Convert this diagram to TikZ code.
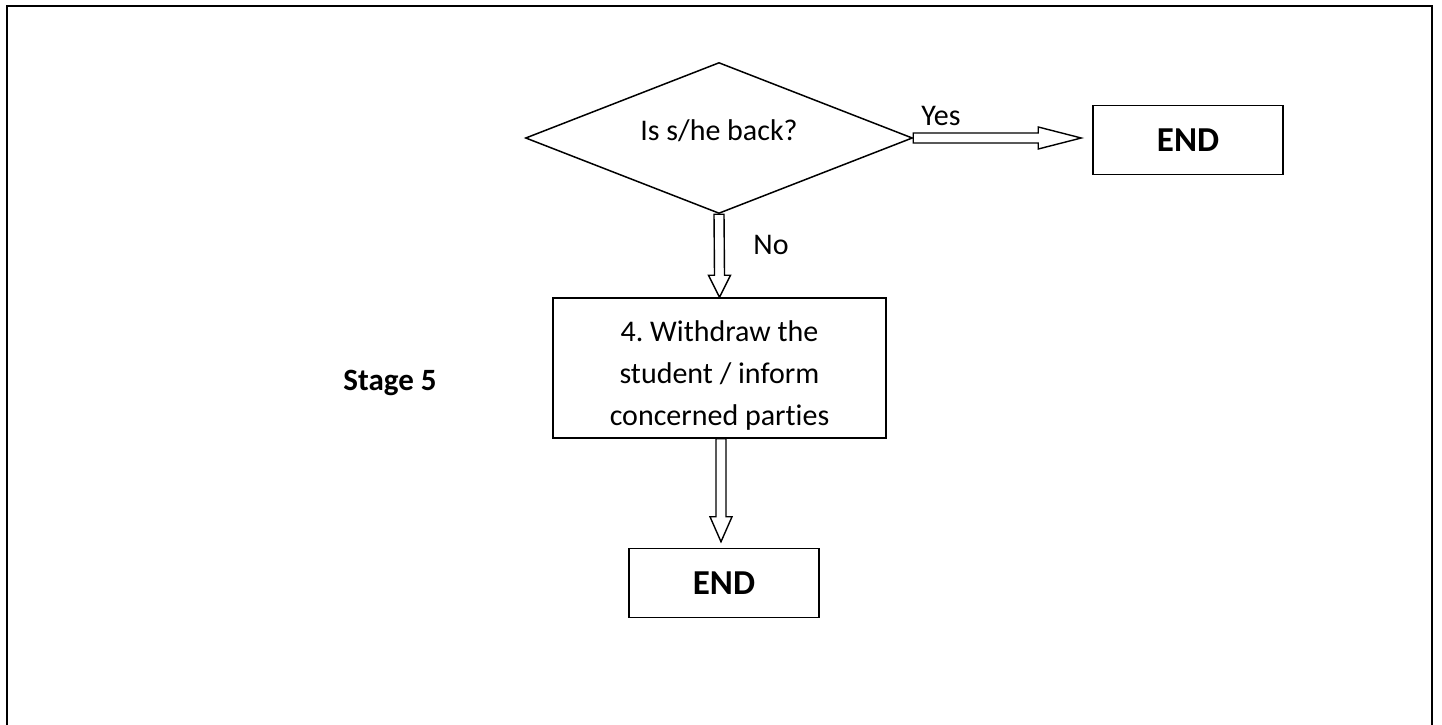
\documentclass[tikz,border=0pt]{standalone}
\usepackage{fontspec}
\setmainfont[Ligatures=NoCommon]{Carlito}
\frenchspacing
\usetikzlibrary{shapes.geometric,calc}
\tikzset{
  every node/.style={font=\fontsize{30}{42}\selectfont},
  boxnode/.style={draw,line width=1.5pt,inner sep=0pt,align=center},
  endbox/.style={boxnode,minimum width=190pt,minimum height=69pt,font=\fontsize{35}{40}\selectfont\bfseries},
  decision/.style={draw,diamond,line width=1.5pt,inner sep=0pt,minimum width=387pt,minimum height=151pt,aspect=2.56},
  blockarrow/.style={draw,line width=1.4pt,fill=white,line join=miter},
  plain/.style={inner sep=0pt,align=center}
}
\begin{document}
\begin{tikzpicture}[x=1pt,y=-1pt]
\useasboundingbox (0,0) rectangle (1442,725);
\draw[line width=2.5pt] (7,6) rectangle (1432,740);

\node[decision] (d) at (719,138) {};
\node[plain] (dq) at (719,131) {Is s/he back?};
\node[endbox] (e1) at (1188,140) {END};
\node[boxnode,minimum width=333pt,minimum height=140pt] (b1) at (719.5,368) {};
\node[plain] (b1t) at (719.5,375) {4. Withdraw the\\student / inform\\concerned parties};
\node[endbox] (e2) at (724,583) {END};
\node[plain,font=\fontsize{31}{42}\selectfont\bfseries] (st) at (390,383) {Stage 5};
\node[plain] (yes) at (941,116) {Yes};
\node[plain] (no) at (771,245) {No};

% Yes arrow
\coordinate (t1) at ($(e1.west)+(-11,-2)$);
\draw[blockarrow] ($(d.east)+(0,-5)$) -- ($(t1)+(-43,-5)$) -- ($(t1)+(-43,-11)$) -- (t1)
  -- ($(t1)+(-43,11)$) -- ($(t1)+(-43,5)$) -- ($(d.east)+(0,5)$) -- cycle;

% No arrow
\coordinate (t2) at (b1.north);
\draw[blockarrow] ($(d.south)+(-5,0)$) -- ($(t2)+(-5,-22)$) -- ($(t2)+(-11,-22)$) -- (t2)
  -- ($(t2)+(11,-22)$) -- ($(t2)+(5,-22)$) -- ($(d.south)+(5,0)$) -- cycle;

% Down to END
\coordinate (t3) at ($(e2.north)+(-3,-6)$);
\coordinate (s3) at ($(b1.south)+(1.5,0)$);
\draw[blockarrow] ($(s3)+(-5,0)$) -- ($(t3)+(-5,-25)$) -- ($(t3)+(-11,-25)$) -- (t3)
  -- ($(t3)+(11,-25)$) -- ($(t3)+(5,-25)$) -- ($(s3)+(5,0)$) -- cycle;
\end{tikzpicture}
\end{document}
